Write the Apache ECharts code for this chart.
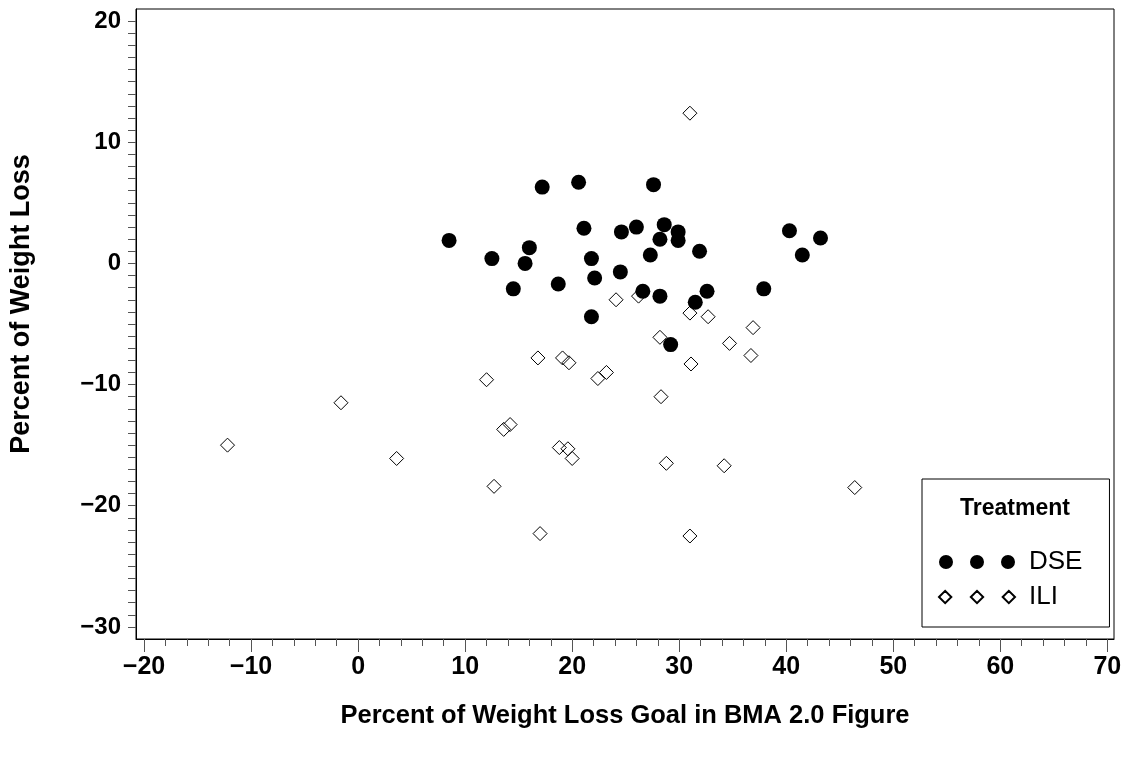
<!DOCTYPE html>
<html><head><meta charset="utf-8">
<script src="https://cdn.jsdelivr.net/npm/echarts@6/dist/echarts.min.js"></script>
<style>html,body{margin:0;padding:0;background:#fff}#c{width:1128px;height:757px}</style>
</head><body><div id="c"></div>
<script>
const dseX = [8.5, 17.2, 20.6, 27.6, 12.5, 16.0, 15.6, 14.5, 18.7, 21.1, 21.8, 22.1, 21.8, 24.6, 26.0, 24.5, 28.6, 28.2, 29.9, 29.9, 27.3, 31.9, 26.6, 28.2, 32.6, 31.5, 29.2, 40.3, 43.2, 41.5, 37.9];
const dseY = [1.9, 6.3, 6.7, 6.5, 0.4, 1.3, 0.0, -2.1, -1.7, 2.9, 0.4, -1.2, -4.4, 2.6, 3.0, -0.7, 3.2, 2.0, 2.6, 1.9, 0.7, 1.0, -2.3, -2.7, -2.3, -3.2, -6.7, 2.7, 2.1, 0.7, -2.1];
const iliX = [31.0, 24.1, 26.2, 31.0, 32.7, 28.2, 36.9, 34.7, 36.7, 31.1, 16.8, 19.1, 19.7, 12.0, 22.4, 23.2, 28.3, 14.2, 13.6, 18.8, 19.6, 20.0, 28.8, 34.2, 12.7, 17.0, 31.0, -12.2, -1.6, 3.6, 46.4];
const iliY = [12.4, -3.0, -2.7, -4.1, -4.4, -6.1, -5.3, -6.6, -7.6, -8.3, -7.8, -7.8, -8.2, -9.6, -9.5, -9.0, -11.0, -13.3, -13.7, -15.2, -15.3, -16.1, -16.5, -16.7, -18.4, -22.3, -22.5, -15.0, -11.5, -16.1, -18.5];
const xTicks = [-20, -10, 0, 10, 20, 30, 40, 50, 60, 70];
const yTicks = [-30, -20, -10, 0, 10, 20];
const xMinor = []; for (let v = -20; v <= 70; v += 2) xMinor.push(v);
const yMinor = []; for (let v = -30; v <= 20; v += 1) yMinor.push(v);
const groups = ['DSE', 'ILI'];
const legendTitle = 'Treatment';
const xTitle = 'Percent of Weight Loss Goal in BMA 2.0 Figure';
const yTitle = 'Percent of Weight Loss';

const FONT = '"Liberation Sans", Arial, sans-serif';
const fmt = v => v < 0 ? '\u2212' + Math.abs(v) : String(v);
const pair = (xs, ys) => xs.map((x, i) => [x, ys[i]]);

const circles3 = 'path://M0,7a7,7 0 1,0 14,0a7,7 0 1,0 -14,0Z M31,7a7,7 0 1,0 14,0a7,7 0 1,0 -14,0Z M62,7a7,7 0 1,0 14,0a7,7 0 1,0 -14,0Z';
const diamonds3 = 'path://M1,7L7,1L13,7L7,13Z M32,7L38,1L44,7L38,13Z M63,7L69,1L75,7L69,13Z';

const chart = echarts.init(document.getElementById('c'), null, {renderer: 'canvas'});
chart.setOption({
  animation: false,
  backgroundColor: '#fff',
  grid: {left: 134, right: 14, top: 9, bottom: 118, show: true, borderColor: '#000', borderWidth: 1, backgroundColor: 'transparent'},
  xAxis: [{
    type: 'value', min: -20.75, max: 70.62, position: 'bottom',
    splitLine: {show: false},
    axisLine: {show: true, onZero: false, lineStyle: {color: '#000', width: 1}},
    axisTick: {show: true, customValues: xTicks, length: 13, inside: false, lineStyle: {color: '#555', width: 1}},
    axisLabel: {customValues: xTicks, formatter: fmt, fontFamily: FONT, fontSize: 25, fontWeight: 'bold', color: '#000', margin: 16},
    name: xTitle, nameLocation: 'middle', nameGap: 64,
    nameTextStyle: {fontFamily: FONT, fontSize: 25.5, fontWeight: 'bold', color: '#000'}
  }, {
    type: 'value', min: -20.75, max: 70.62, position: 'bottom',
    splitLine: {show: false}, axisLine: {show: false, onZero: false},
    axisTick: {show: true, customValues: xMinor, length: 7, lineStyle: {color: '#555', width: 1}},
    axisLabel: {show: false}
  }],
  yAxis: [{
    type: 'value', min: -31, max: 21, position: 'left',
    splitLine: {show: false},
    axisLine: {show: true, onZero: false, lineStyle: {color: '#000', width: 1}},
    axisTick: {show: true, customValues: yMinor, length: 8, lineStyle: {color: '#555', width: 1}},
    axisLabel: {customValues: yTicks, formatter: fmt, fontFamily: FONT, fontSize: 24, fontWeight: 'bold', color: '#000', margin: 15},
    name: yTitle, nameLocation: 'middle', nameGap: 101, nameRotate: 90,
    nameTextStyle: {fontFamily: FONT, fontSize: 27, fontWeight: 'bold', color: '#000', padding: [0, 0, 0, 40]}
  }],
  legend: {
    orient: 'vertical', left: 922, top: 479,
    padding: [70, 27, 17, 16],
    borderColor: '#000', borderWidth: 1,
    itemWidth: 76, itemHeight: 14, itemGap: 9,
    textStyle: {fontFamily: FONT, fontSize: 26, color: '#000', lineHeight: 26, padding: [0, 0, 0, 9]},
    data: [{name: groups[0], icon: circles3}, {name: groups[1], icon: diamonds3}]
  },
  graphic: [{
    type: 'text', x: 1015, y: 509,
    style: {text: legendTitle, fontFamily: FONT, fontSize: 23, fontWeight: 'bold', fill: '#000', align: 'center', verticalAlign: 'middle'}
  }],
  series: [{
    name: groups[0], type: 'scatter', xAxisIndex: 0, yAxisIndex: 0,
    symbol: 'circle', symbolSize: 15,
    itemStyle: {color: '#000', opacity: 1},
    data: pair(dseX, dseY)
  }, {
    name: groups[1], type: 'scatter', xAxisIndex: 0, yAxisIndex: 0,
    symbol: 'diamond', symbolSize: 14,
    itemStyle: {color: 'rgba(0,0,0,0)', borderColor: '#000', borderWidth: 1, opacity: 1},
    data: pair(iliX, iliY)
  }]
});
</script></body></html>
